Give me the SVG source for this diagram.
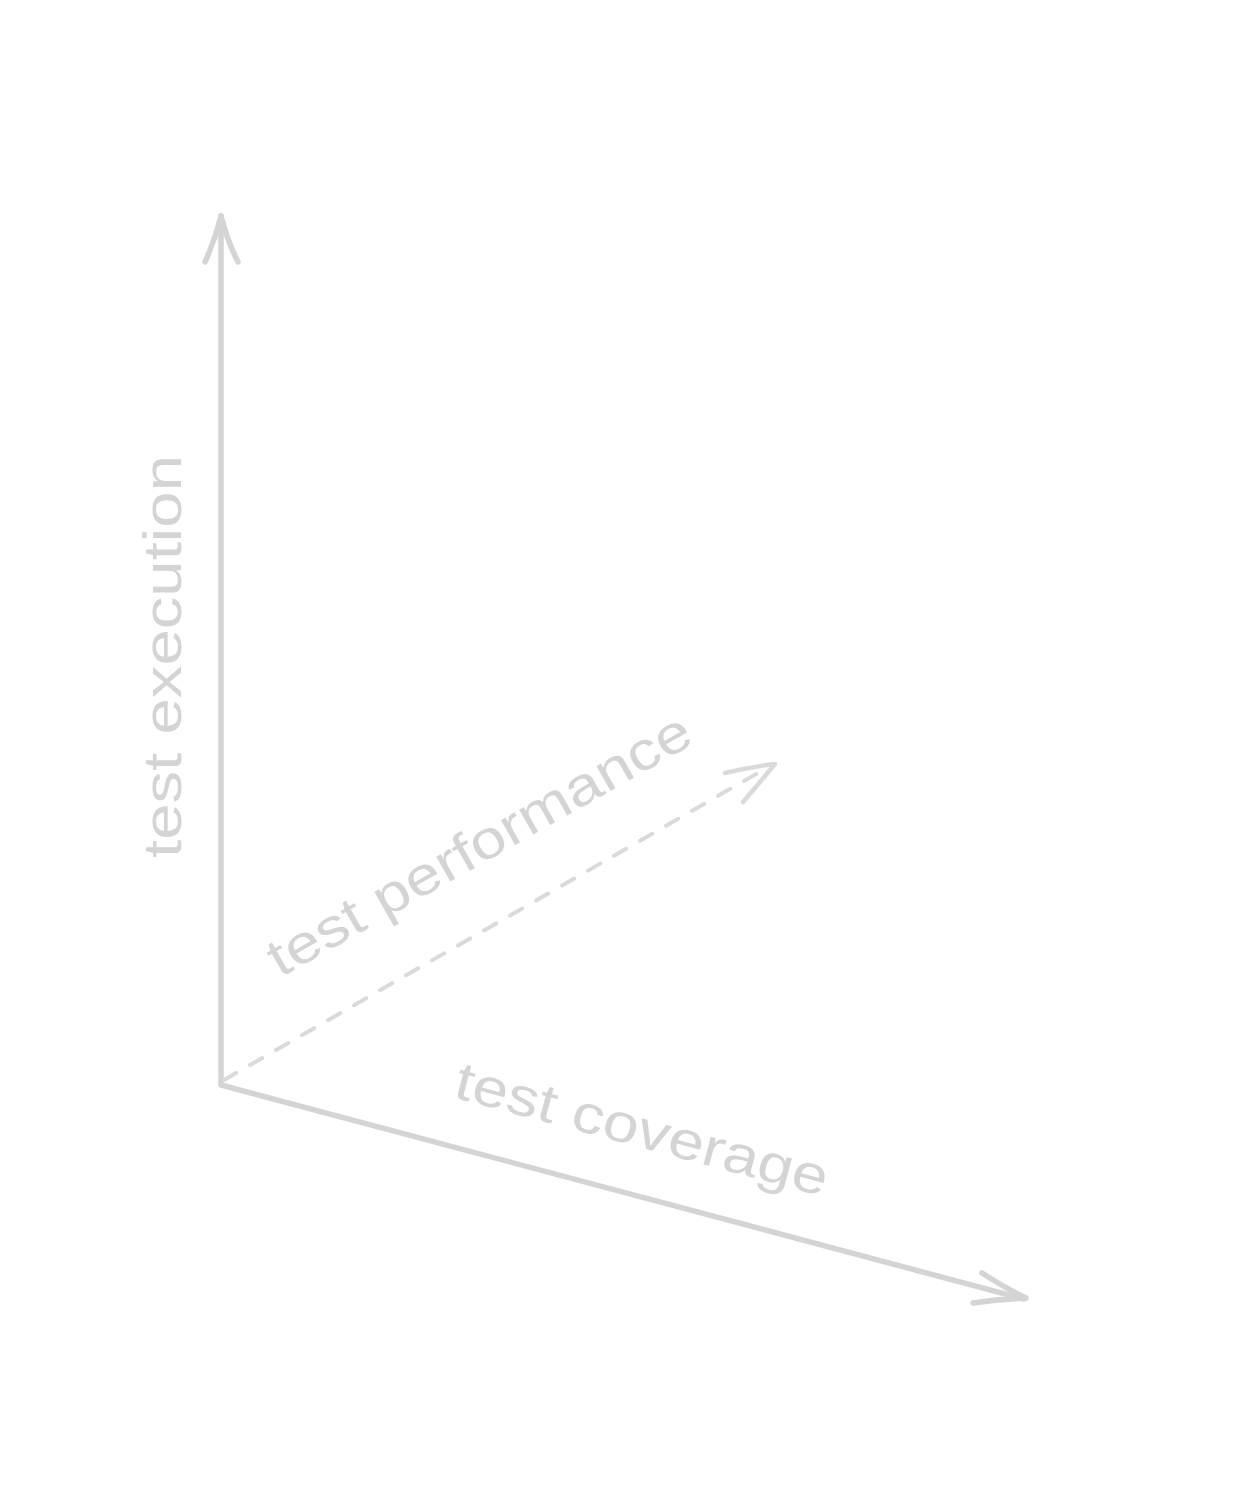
<svg xmlns="http://www.w3.org/2000/svg" width="1260" height="1506" viewBox="0 0 1260 1506">
<style>
.ax{fill:none;stroke:#d4d4d4;stroke-width:5.5;stroke-linecap:round;stroke-linejoin:round}
.dash{fill:none;stroke:#dadada;stroke-width:4;stroke-linecap:round;stroke-dasharray:14 16}
.head2{fill:none;stroke:#dadada;stroke-width:4.5;stroke-linecap:round;stroke-linejoin:round}
.lbl{font-family:"Liberation Sans","DejaVu Sans",sans-serif;font-size:54px;fill:#d4d4d4}
</style>
<rect width="1260" height="1506" fill="#ffffff"/>
<g id="connectors">
<path class="ax" d="M221 1083 L221 216"/>
<path class="ax" d="M205 262 Q215 240 221 216 Q227 240 238 262"/>
<path class="ax" d="M221 1085 L1024 1299"/>
<path class="ax" d="M982 1273 Q1005 1288 1026 1298 Q1000 1299 973 1303"/>
<path class="dash" d="M224 1080 L770 766"/>
<path class="head2" d="M725 773 Q750 767 775 764 Q760 782 743 802"/>
</g>
<g id="label-execution">
<text class="lbl" transform="translate(181 858) rotate(-90)" textLength="403" lengthAdjust="spacingAndGlyphs">test execution</text>
</g>
<g id="label-performance">
<text class="lbl" transform="translate(280 978) rotate(-29.5)" textLength="478" lengthAdjust="spacingAndGlyphs">test performance</text>
</g>
<g id="label-coverage">
<text class="lbl" transform="translate(452 1097) rotate(15)" textLength="384" lengthAdjust="spacingAndGlyphs">test coverage</text>
</g>
</svg>
